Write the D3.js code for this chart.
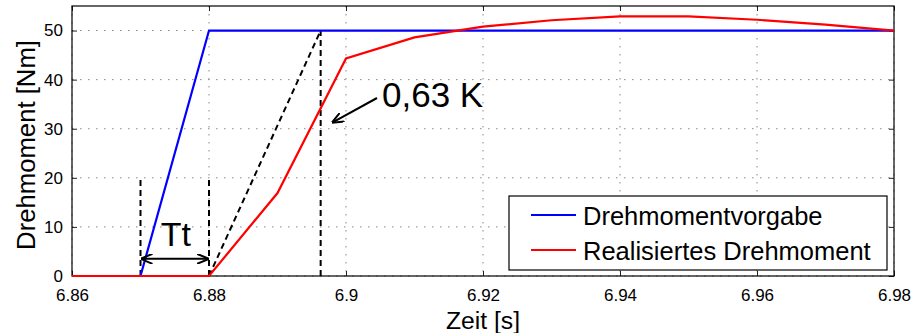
<!DOCTYPE html>
<html>
<head>
<meta charset="utf-8">
<script src="https://cdn.jsdelivr.net/npm/d3@7"></script>
<style>
  body { margin: 0; background: #fff; }
  svg { font-family: "Liberation Sans", Arial, sans-serif; }
</style>
</head>
<body>
<svg id="canvas" width="914" height="333"></svg>
<script>
// data
let xTicks = [6.86, 6.88, 6.9, 6.92, 6.94, 6.96, 6.98]
let yTicks = [0, 10, 20, 30, 40, 50]

let vorgabeZeit = [6.86, 6.87, 6.88, 6.98]
let vorgabeWert = [0, 0, 50, 50]

let istZeit = [6.86, 6.88, 6.89, 6.90, 6.91, 6.92, 6.93, 6.94, 6.95, 6.96, 6.97, 6.98]
let istWert = [0, 0, 16.9, 44.3, 48.6, 50.8, 52.1, 52.9, 52.9, 52.2, 51.2, 50]

let legendLabels = ['Drehmomentvorgabe', 'Realisiertes Drehmoment']
let legendColors = ['#0000ff', '#ff0000']

// annotation values
let ttStart = 6.87
let ttEnd = 6.88
let t63 = 6.8963
let endwert = 50

let canvas = d3.select('#canvas')

let plotLeft = 72, plotRight = 894, plotTop = 6, plotBottom = 276

let xScale = d3.scaleLinear().domain([6.86, 6.98]).range([plotLeft, plotRight])
let yScale = d3.scaleLinear().domain([0, 55]).range([plotBottom, plotTop])

// grid
canvas.append('g')
    .selectAll('line')
    .data(xTicks)
    .enter()
    .append('line')
    .attr('x1', (d) => xScale(d)).attr('x2', (d) => xScale(d))
    .attr('y1', plotTop).attr('y2', plotBottom)
    .attr('stroke', '#888').attr('stroke-width', 1)
    .attr('stroke-dasharray', '1.5,6.5')

canvas.append('g')
    .selectAll('line')
    .data(yTicks)
    .enter()
    .append('line')
    .attr('x1', plotLeft).attr('x2', plotRight)
    .attr('y1', (d) => yScale(d)).attr('y2', (d) => yScale(d))
    .attr('stroke', '#888').attr('stroke-width', 1)
    .attr('stroke-dasharray', '1.5,6.5')

// axes
let xAxis = d3.axisBottom(xScale).tickValues(xTicks).tickSize(-5).tickPadding(12.5)
    .tickFormat((d) => String(+d.toFixed(2)))
let yAxis = d3.axisLeft(yScale).tickValues(yTicks).tickSize(-5).tickPadding(9)

let gx = canvas.append('g').attr('transform', 'translate(0,' + plotBottom + ')').call(xAxis)
let gy = canvas.append('g').attr('transform', 'translate(' + plotLeft + ',0)').call(yAxis)
let gxTop = canvas.append('g').attr('transform', 'translate(0,' + plotTop + ')')
    .call(d3.axisTop(xScale).tickValues(xTicks).tickSize(-5).tickFormat(''))
let gyRight = canvas.append('g').attr('transform', 'translate(' + plotRight + ',0)')
    .call(d3.axisRight(yScale).tickValues(yTicks).tickSize(-5).tickFormat(''))

;[gx, gy, gxTop, gyRight].forEach((g) => {
    g.select('.domain').remove()
    g.selectAll('line').attr('stroke', '#222')
    g.selectAll('text').attr('font-size', 17).attr('fill', '#000')
        .attr('font-family', '"Liberation Sans", Arial, sans-serif')
})

canvas.append('rect')
    .attr('x', plotLeft).attr('y', plotTop)
    .attr('width', plotRight - plotLeft).attr('height', plotBottom - plotTop)
    .attr('fill', 'none').attr('stroke', '#000').attr('stroke-width', 1.2)

// axis labels
canvas.append('text')
    .text('Zeit [s]')
    .attr('x', (plotLeft + plotRight) / 2).attr('y', 329)
    .attr('text-anchor', 'middle').attr('font-size', 24.7)

canvas.append('text')
    .text('Drehmoment [Nm]')
    .attr('transform', 'translate(35,145) rotate(-90)')
    .attr('text-anchor', 'middle').attr('font-size', 25.7)

// annotations (dashed)
let dashed = [
    [[ttStart, 0], [ttStart, 20]],
    [[ttEnd, 0], [ttEnd, 20]],
    [[ttEnd, 0], [t63, endwert]],
    [[t63, 0], [t63, endwert]]
]
let line = d3.line().x((d) => xScale(d[0])).y((d) => yScale(d[1]))

canvas.append('g')
    .selectAll('path')
    .data(dashed)
    .enter()
    .append('path')
    .attr('d', line)
    .attr('fill', 'none').attr('stroke', '#000').attr('stroke-width', 2)
    .attr('stroke-dasharray', '6,4')

// data lines
let vorgabe = vorgabeZeit.map((t, i) => [t, vorgabeWert[i]])
let ist = istZeit.map((t, i) => [t, istWert[i]])

canvas.append('path').datum(vorgabe).attr('d', line)
    .attr('fill', 'none').attr('stroke', legendColors[0]).attr('stroke-width', 2.2)
canvas.append('path').datum(ist).attr('d', line)
    .attr('fill', 'none').attr('stroke', legendColors[1]).attr('stroke-width', 2.2)

// arrows
let defs = canvas.append('defs')
defs.append('marker')
    .attr('id', 'head').attr('viewBox', '0 0 12 10')
    .attr('refX', 11).attr('refY', 5)
    .attr('markerWidth', 12).attr('markerHeight', 10)
    .attr('markerUnits', 'userSpaceOnUse')
    .attr('orient', 'auto-start-reverse')
    .append('path').attr('d', 'M0,0 L12,5 L0,10')
    .attr('fill', 'none').attr('stroke', '#000').attr('stroke-width', 2)

let ttY = yScale(3.5)
canvas.append('line')
    .attr('x1', xScale(ttStart) + 1).attr('x2', xScale(ttEnd) - 1)
    .attr('y1', ttY).attr('y2', ttY)
    .attr('stroke', '#000').attr('stroke-width', 2)
    .attr('marker-start', 'url(#head)').attr('marker-end', 'url(#head)')

canvas.append('text')
    .text('Tt')
    .attr('x', xScale((ttStart + ttEnd) / 2) + 1).attr('y', ttY - 13)
    .attr('text-anchor', 'middle').attr('font-size', 34)

canvas.append('line')
    .attr('x1', 377).attr('y1', 98)
    .attr('x2', xScale(t63) + 12).attr('y2', yScale(endwert * 0.63) + 1)
    .attr('stroke', '#000').attr('stroke-width', 2)
    .attr('marker-end', 'url(#head)')

canvas.append('text')
    .text('0,63 K')
    .attr('x', 382).attr('y', 107)
    .attr('font-size', 35)

// legend
let legend = canvas.append('g')
legend.append('rect')
    .attr('x', 509).attr('y', 196).attr('width', 378).attr('height', 74)
    .attr('fill', '#fff').attr('stroke', '#000').attr('stroke-width', 1.2)

let rows = legend.selectAll('g.row')
    .data(legendLabels)
    .enter()
    .append('g')
    .attr('class', 'row')
    .attr('transform', (d, i) => 'translate(0,' + (215 + i * 35) + ')')

rows.append('line')
    .attr('x1', 531).attr('x2', 576).attr('y1', 0).attr('y2', 0)
    .attr('stroke', (d, i) => legendColors[i]).attr('stroke-width', 2.2)

rows.append('text')
    .text((d) => d)
    .attr('x', 583).attr('y', 9.5)
    .attr('font-size', 25.5)
</script>
</body>
</html>
